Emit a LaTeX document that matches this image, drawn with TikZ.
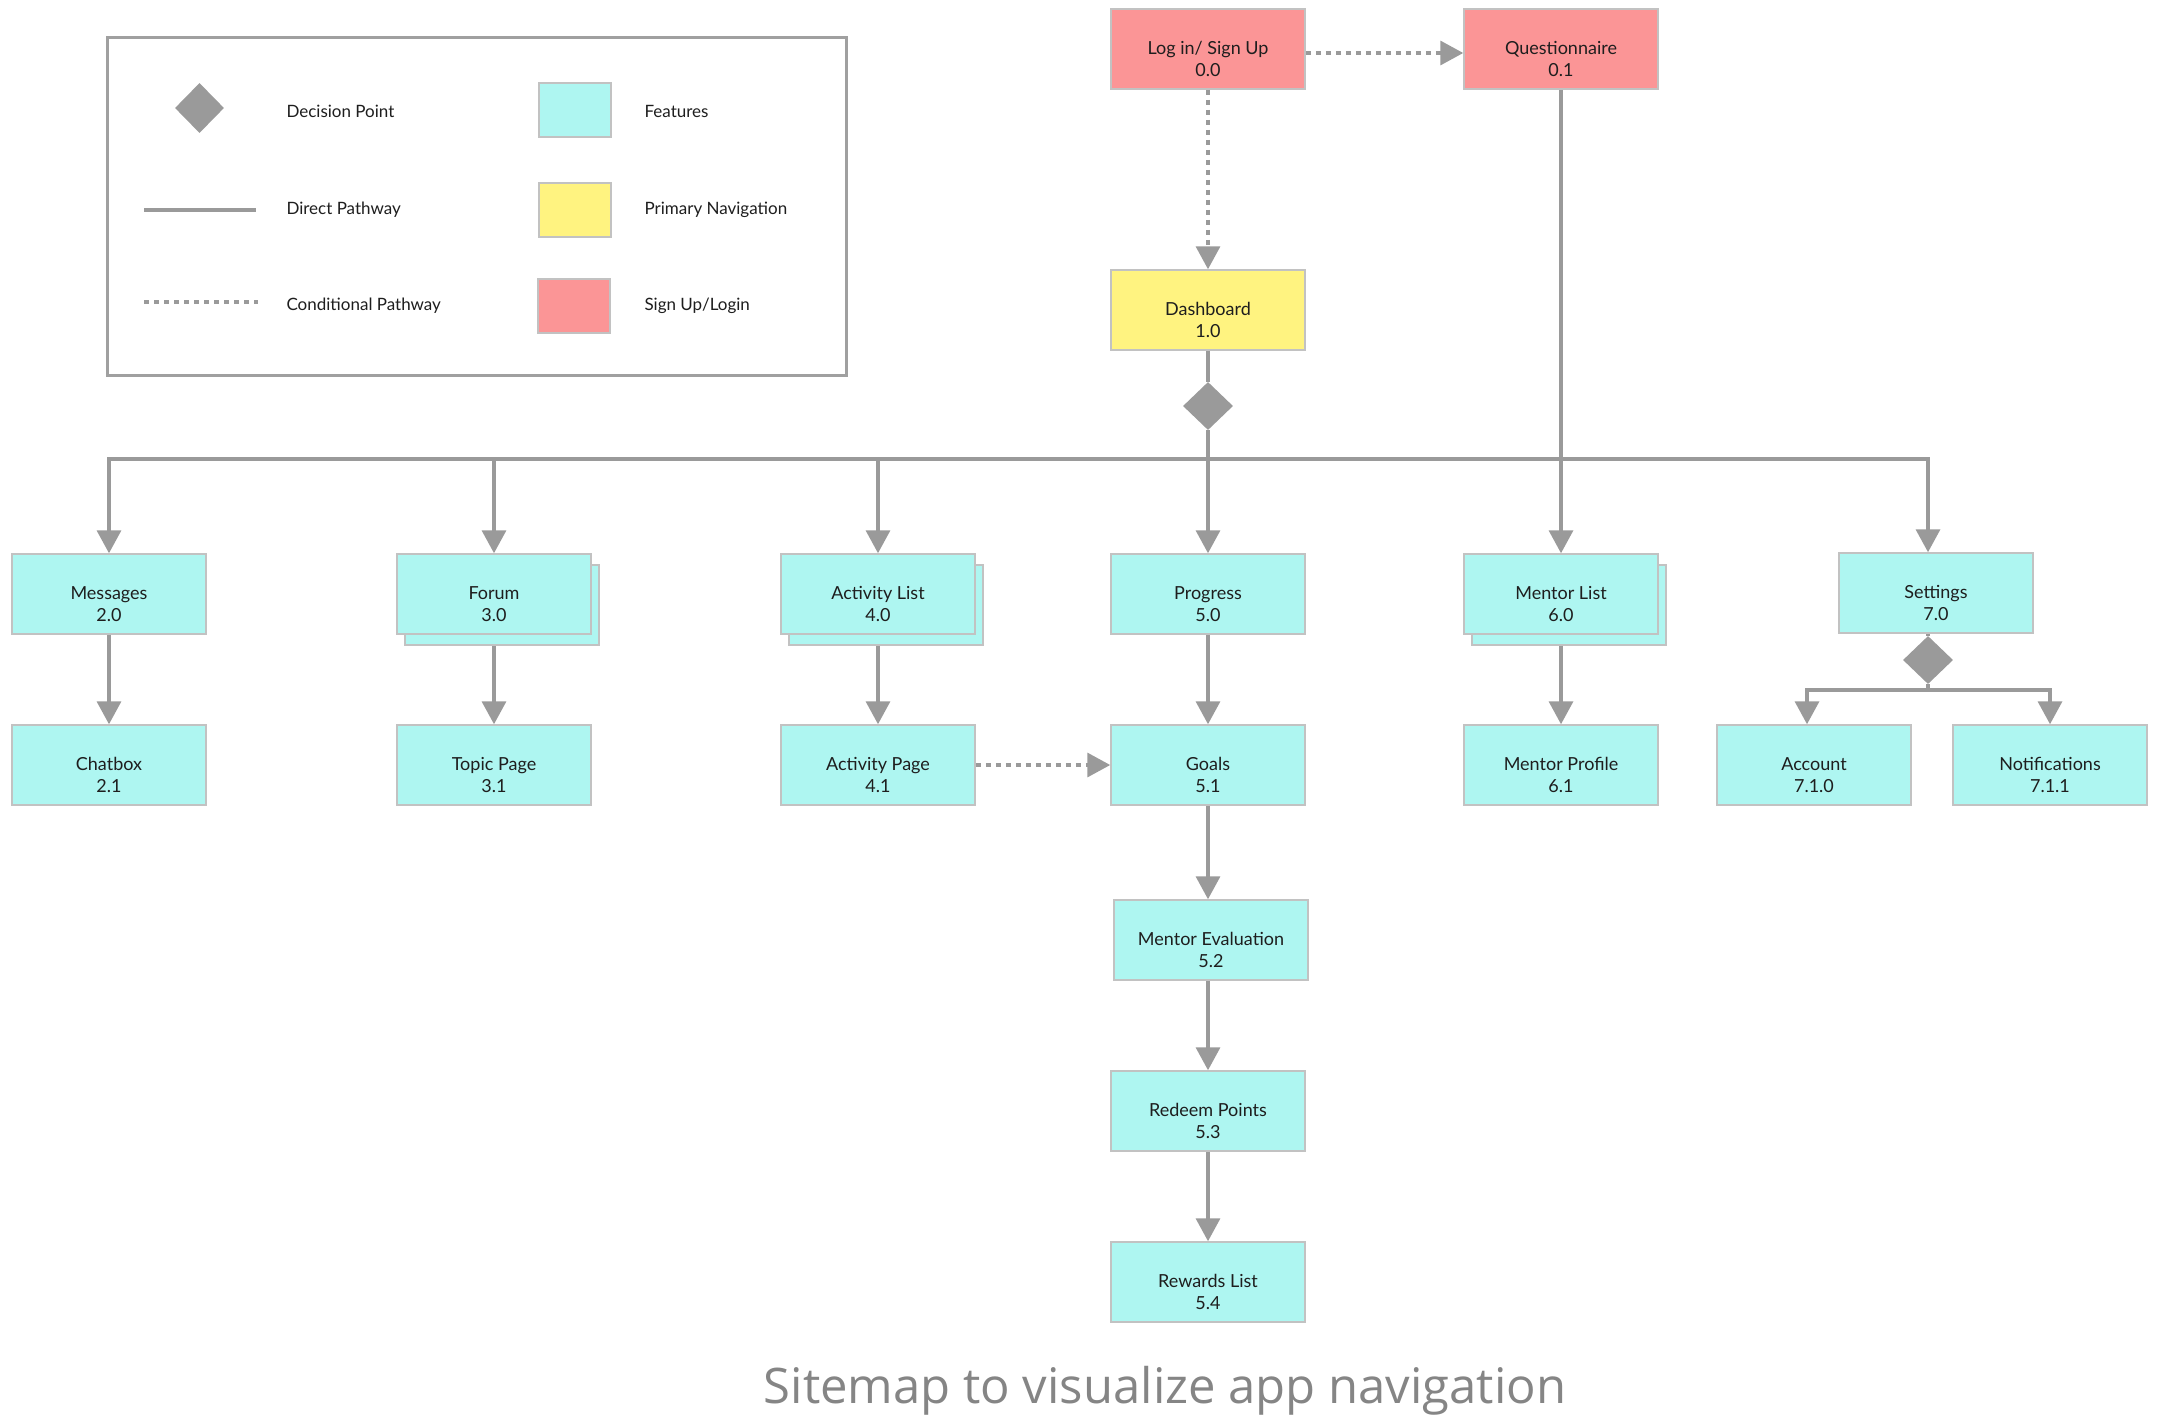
\documentclass[tikz,border=0pt]{standalone}
\usepackage{fontspec}
\setmainfont{Lato}
\newfontfamily\capfont{Open Sans}
\usetikzlibrary{arrows.meta,shapes.geometric,shadows}
\definecolor{linecol}{HTML}{9A9A9A}
\definecolor{legcol}{HTML}{A0A0A0}
\definecolor{bordcol}{HTML}{C2C2C2}
\definecolor{featcol}{HTML}{AEF6F1}
\definecolor{navcol}{HTML}{FFF380}
\definecolor{signcol}{HTML}{FB9596}
\definecolor{txtcol}{HTML}{1E1E1E}
\definecolor{capcol}{HTML}{858585}
\begin{document}
\begin{tikzpicture}[x=1pt,y=-1pt,
  line/.style={draw=linecol, line width=3.5pt},
  arr/.style={line, -{Triangle[length=23pt,width=24pt]}},
  darr/.style={arr, dash pattern=on 5pt off 5pt},
  box/.style={rectangle, draw=bordcol, line width=1.5pt, minimum width=194pt, minimum height=80pt, inner sep=0pt},
  lbl/.style={align=center, font=\fontsize{18}{22}\selectfont, text=txtcol, yshift=-10pt},
  feat/.style={box, fill=featcol, label={[lbl]center:{#1}}},
  nav/.style={box, fill=navcol, label={[lbl]center:{#1}}},
  sign/.style={box, fill=signcol, label={[lbl]center:{#1}}},
  stack/.style={general shadow={shadow xshift=8pt, shadow yshift=-11pt, fill=featcol, draw=bordcol, line width=1.5pt}},
  dec/.style={diamond, fill=linecol, inner sep=0pt, minimum width=50pt, minimum height=48pt},
  legtxt/.style={anchor=base west, font=\fontsize{17}{20}\selectfont, text=txtcol}
]
\useasboundingbox[fill=white] (0,0) rectangle (2157,1427);

% legend
\node[draw=legcol, line width=3pt, fill=white, minimum width=739pt, minimum height=338pt, inner sep=0pt] (legend) at (476.5,206.5) {};
\node[dec, minimum width=49pt, minimum height=50pt] (legdec) at (199.5,108) {};
\coordinate (dl1) at (144,210); \coordinate (dl2) at (256,210);
\draw[line] (dl1) -- (dl2);
\coordinate (cl1) at (144,302); \coordinate (cl2) at (258,302);
\draw[line, dash pattern=on 5pt off 5pt] (cl1) -- (cl2);
\node[box, fill=featcol, minimum width=72pt, minimum height=54pt] (legfeat) at (575,110) {};
\node[box, fill=navcol, minimum width=72pt, minimum height=54pt] (legnav) at (575,210) {};
\node[box, fill=signcol, minimum width=72pt, minimum height=54pt] (legsign) at (574,306) {};
\node[legtxt] (t1) at (283,117) {Decision Point};
\node[legtxt] (t2) at (283,214) {Direct Pathway};
\node[legtxt] (t3) at (283,310) {Conditional Pathway};
\node[legtxt] (t4) at (641,117) {Features};
\node[legtxt] (t5) at (641,214) {Primary Navigation};
\node[legtxt] (t6) at (641,310) {Sign Up/Login};

% nodes
\node[sign={Log in/ Sign Up\\0.0}] (login) at (1208,49) {};
\node[sign={Questionnaire\\0.1}] (quest) at (1561,49) {};
\node[nav={Dashboard\\1.0}] (dash) at (1208,310) {};
\node[dec] (d1) at (1208,406) {};

\node[feat={Messages\\2.0}] (msg) at (109,594) {};
\node[feat={Chatbox\\2.1}] (chat) at (109,765) {};
\node[feat={Forum\\3.0}, stack] (forum) at (494,594) {};
\node[feat={Topic Page\\3.1}] (topic) at (494,765) {};
\node[feat={Activity List\\4.0}, stack] (actl) at (878,594) {};
\node[feat={Activity Page\\4.1}] (actp) at (878,765) {};
\node[feat={Progress\\5.0}] (prog) at (1208,594) {};
\node[feat={Goals\\5.1}] (goals) at (1208,765) {};
\node[feat={Mentor Evaluation\\5.2}] (meval) at (1211,940) {};
\node[feat={Redeem Points\\5.3}] (redeem) at (1208,1111) {};
\node[feat={Rewards List\\5.4}] (rewards) at (1208,1282) {};
\node[feat={Mentor List\\6.0}, stack] (mentl) at (1561,594) {};
\node[feat={Mentor Profile\\6.1}] (mentp) at (1561,765) {};
\node[feat={Settings\\7.0}] (settings) at (1936,593) {};
\node[dec] (d2) at (1928,660) {};
\node[feat={Account\\7.1.0}] (account) at (1814,765) {};
\node[feat={Notifications\\7.1.1}] (notif) at (2050,765) {};

% connectors
\draw[darr] ([yshift=-4pt]login.east) -- ([yshift=-4pt]quest.west);
\draw[darr] (login.south) -- (dash.north);
\draw[line] (dash.south) -- (d1.north);
\coordinate (bus) at (1208,459);
\draw[line] (d1.south) -- (bus);
\draw[arr] (bus) -| (msg.north);
\draw[arr] (bus) -| (forum.north);
\draw[arr] (bus) -| (actl.north);
\draw[arr] (bus) -- (prog.north);
\draw[arr] (bus) -| ([xshift=-8pt]settings.north);
\draw[arr] (quest.south) -- (mentl.north);

\draw[arr] (msg.south) -- (chat.north);
\draw[arr] ([yshift=-11pt]forum.south) -- (topic.north);
\draw[arr] ([yshift=-11pt]actl.south) -- (actp.north);
\draw[arr] (prog.south) -- (goals.north);
\draw[arr] ([yshift=-11pt]mentl.south) -- (mentp.north);
\draw[darr] (actp.east) -- (goals.west);
\draw[arr] (goals.south) -- (goals.south |- meval.north);
\draw[arr] (meval.south -| redeem.south) -- (redeem.north);
\draw[arr] (redeem.south) -- (rewards.north);

\draw[line] (settings.south -| d2) -- (d2.north);
\coordinate (b2) at (1928,690);
\draw[line] (d2.south) -- (b2);
\draw[arr] (b2) -| ([xshift=-7pt]account.north);
\draw[arr] (b2) -| (notif.north);

\node[font=\capfont\fontsize{49}{58}\selectfont, text=capcol, anchor=base] (cap) at (1165,1403) {Sitemap to visualize app navigation};
\end{tikzpicture}
\end{document}
